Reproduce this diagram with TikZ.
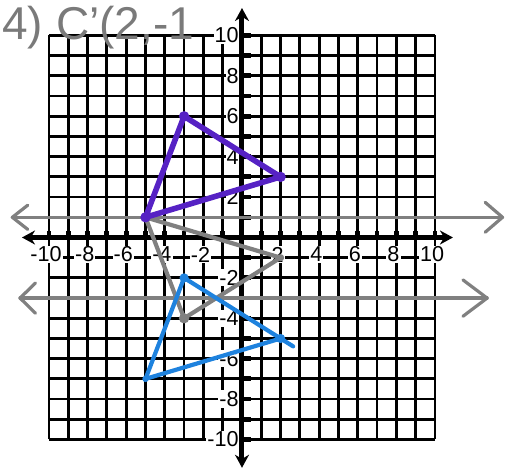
\documentclass[tikz,border=0pt]{standalone}
\usepackage{fontspec}
\setmainfont{Liberation Sans}
\usetikzlibrary{arrows.meta}
\definecolor{purp}{RGB}{86,34,196}
\definecolor{blu}{RGB}{30,130,222}
\definecolor{gry}{RGB}{128,128,128}
\definecolor{pencil}{RGB}{122,122,122}
\tikzset{
  gridline/.style={line width=1.4pt, black},
  axisline/.style={line width=2.5pt, black, {Stealth[length=6.5pt,width=7pt]}-{Stealth[length=6.5pt,width=7pt]}},
  tickmark/.style={line width=2.4pt, black},
  axlabel/.style={font=\fontsize{10.8}{10.8}\selectfont, fill=white, inner sep=0.5pt},
  mirror/.style={line width=1.6pt, gry, line cap=round, line join=round},
  purpleside/.style={line width=2.8pt, purp, line cap=round, line join=round},
  blueside/.style={line width=2.1pt, blu, line cap=round, line join=round},
  grayside/.style={line width=2.1pt, gry, line cap=round, line join=round}
}
\begin{document}
\begin{tikzpicture}[x=0.5pt,y=-0.5pt]
\useasboundingbox (0,0) rectangle (511,470);
\begin{scope}[shift={(242,237.5)}, x=9.65pt, y=10.1pt]
  % grid
  \draw[gridline, step=1] (-10,-10) grid (10,10);
  % labels
  \foreach \v in {-10,-8,-6,-4,-2,2,4,6,8,10}{
    \node[axlabel] (xl\v) at (\v-0.15,-0.84) {\v};
    \node[axlabel, anchor=east] (yl\v) at (-0.1,\v) {\v};
  }
  % ticks
  \foreach \i in {-10,...,10}{
    \draw[tickmark] (\i,0) -- (\i,0.32);
    \draw[tickmark] (0,\i) -- (0.45,\i);
  }
  % axes
  \coordinate (xa) at (-11.4,0);
  \coordinate (xb) at (10.93,0);
  \coordinate (ya) at (0,-11.4);
  \coordinate (yb) at (0,11.36);
  \draw[axisline] (xa) -- (xb);
  \draw[axisline] (ya) -- (yb);
  % reflection lines y=1 and y=-3
  \coordinate (m1a) at (-11.9,1);
  \coordinate (m1b) at (13.5,1);
  \coordinate (m1a1) at (-11.1,1.6);
  \coordinate (m1a2) at (-11.1,0.4);
  \coordinate (m1b1) at (12.6,1.74);
  \coordinate (m1b2) at (12.6,0.26);
  \draw[mirror] (m1a) -- (m1b);
  \draw[mirror] (m1a1) -- (m1a) -- (m1a2);
  \draw[mirror] (m1b1) -- (m1b) -- (m1b2);
  \coordinate (m2a) at (-11.5,-3);
  \coordinate (m2b) at (12.7,-3);
  \coordinate (m2a1) at (-10.7,-2.25);
  \coordinate (m2a2) at (-10.7,-3.75);
  \coordinate (m2b1) at (11.45,-2.1);
  \coordinate (m2b2) at (11.45,-3.9);
  \draw[mirror] (m2a) -- (m2b);
  \draw[mirror] (m2a1) -- (m2a) -- (m2a2);
  \draw[mirror] (m2b1) -- (m2b) -- (m2b2);
  % triangles
  \coordinate (A) at (-3,6);
  \coordinate (B) at (2,3);
  \coordinate (C) at (-5,1);
  \coordinate (A1) at (-3,-4);
  \coordinate (B1) at (2,-1);
  \coordinate (A2) at (-3,-2);
  \coordinate (B2) at (2,-5);
  \coordinate (C2) at (-5,-7);
  \coordinate (B2x) at (2.65,-5.39);
  \draw[grayside] (C) -- (B1) -- (A1) -- cycle;
  \draw[blueside] (A2) -- (B2x);
  \draw[blueside] (B2) -- (C2) -- (A2);
  \draw[purpleside] (C) -- (A) -- (B) -- cycle;
  \fill[purp] (A) circle[radius=2.6pt] (B) circle[radius=2.6pt] (C) circle[radius=2.6pt];
  \fill[gry] (A1) circle[radius=2.6pt] (B1) circle[radius=1.8pt];
  \fill[blu] (A2) circle[radius=2.3pt] (B2) circle[radius=2.3pt] (C2) circle[radius=1.6pt];
\end{scope}
\node[anchor=base west, inner sep=0pt, text=pencil, font=\fontsize{23}{23}\selectfont] (title) at (2,40) {4) C'(2,-1};
\end{tikzpicture}
\end{document}
